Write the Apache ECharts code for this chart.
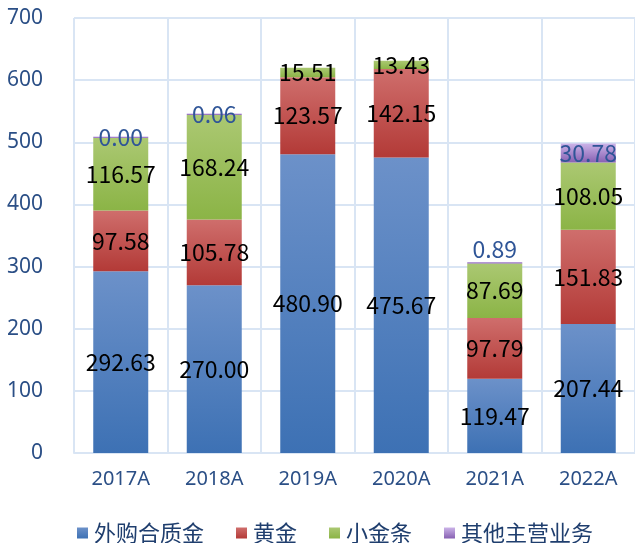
<!DOCTYPE html>
<html>
<head>
<meta charset="utf-8">
<script src="https://cdn.jsdelivr.net/npm/echarts@6/dist/echarts.min.js"></script>
<style>
  html, body { margin: 0; padding: 0; background: #fff; }
  #chart { width: 635px; height: 543px; }
</style>
</head>
<body>
<div id="chart"></div>
<script>
var years = ['2017A', '2018A', '2019A', '2020A', '2021A', '2022A']
var seriesNames = ['外购合质金', '黄金', '小金条', '其他主营业务']
var alloyGold = [292.63, 270.00, 480.90, 475.67, 119.47, 207.44]
var gold = [97.58, 105.78, 123.57, 142.15, 97.79, 151.83]
var smallBars = [116.57, 168.24, 15.51, 13.43, 87.69, 108.05]
var otherBiz = [0.00, 0.06, null, null, 0.89, 30.78]
var yTicks = [0, 100, 200, 300, 400, 500, 600, 700]

var gridColor = '#d9e5f4'
var axisText = '#2b4f86'
var cnFont = '"Noto Sans CJK SC", "Noto Sans", sans-serif'

function grad (top, bottom) {
  return new echarts.graphic.LinearGradient(0, 0, 0, 1, [
    { offset: 0, color: top },
    { offset: 1, color: bottom }
  ])
}

var fills = [
  grad('#6c91c9', '#3d71b4'),
  grad('#cf6e6c', '#b33a37'),
  grad('#abc872', '#8bb446'),
  grad('#cbb3e8', '#8760b2')
]
var labelColors = ['#000', '#000', '#000', '#2f5597']
var values = [alloyGold, gold, smallBars, otherBiz]

// 2021A 的 0.89 标签在原图中被挪到柱顶上方
function buildData (arr, si) {
  return arr.map(function (v, k) {
    if (si === 3 && k === 4) {
      return { value: v, label: { offset: [0, -13] } }
    }
    return v
  })
}

var series = []
for (var i = 0; i < values.length; i++) {
  series.push({
    name: seriesNames[i],
    type: 'bar',
    stack: 'total',
    barWidth: 55,
    barMinHeight: i === 3 ? 1.5 : 0,
    itemStyle: { color: fills[i] },
    label: {
      show: true,
      position: 'inside',
      color: labelColors[i],
      fontFamily: cnFont,
      fontSize: 23,
      formatter: function (p) {
        return p.value == null ? '' : Number(p.value).toFixed(2)
      }
    },
    data: buildData(values[i], i)
  })
}

var chart = echarts.init(document.getElementById('chart'))
chart.setOption({
  animation: false,
  grid: {
    left: 74,
    top: 18,
    width: 564,
    height: 435,
    containLabel: false
  },
  legend: {
    data: seriesNames,
    left: 72,
    top: 517,
    icon: 'rect',
    itemWidth: 11,
    itemHeight: 11,
    itemGap: 32,
    textStyle: {
      color: '#1f3e6e',
      fontFamily: cnFont,
      fontSize: 22,
      padding: [0, 0, 0, 1]
    }
  },
  xAxis: {
    type: 'category',
    data: years,
    axisLine: { show: true, lineStyle: { color: gridColor, width: 2 } },
    axisTick: { show: false },
    splitLine: { show: true, lineStyle: { color: gridColor, width: 2 } },
    axisLabel: {
      color: axisText,
      fontFamily: 'Noto Sans, sans-serif',
      fontSize: 20,
      margin: 16
    }
  },
  yAxis: {
    type: 'value',
    min: yTicks[0],
    max: yTicks[yTicks.length - 1],
    interval: yTicks[1] - yTicks[0],
    axisLine: { show: false },
    axisTick: { show: false },
    splitLine: { show: true, lineStyle: { color: gridColor, width: 2 } },
    axisLabel: {
      color: axisText,
      fontFamily: 'Noto Sans, sans-serif',
      fontSize: 21,
      margin: 31
    }
  },
  series: series
})
</script>
</body>
</html>
